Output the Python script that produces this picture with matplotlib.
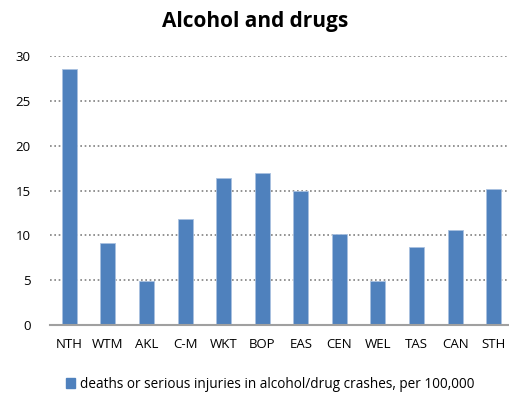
import matplotlib
matplotlib.use("Agg")
import matplotlib.pyplot as plt
from matplotlib.patches import Patch

regions = ["NTH", "WTM", "AKL", "C-M", "WKT", "BOP", "EAS", "CEN", "WEL", "TAS", "CAN", "STH"]
rates = [28.5, 9.1, 4.9, 11.8, 16.4, 16.9, 14.9, 10.2, 4.9, 8.7, 10.6, 15.2]
yticks = [0, 5, 10, 15, 20, 25, 30]
series_name = "deaths or serious injuries in alcohol/drug crashes, per 100,000"

plt.rcParams['font.family'] = ['Open Sans', 'DejaVu Sans']
bar_col = '#4f81bd'

fig = plt.figure(figsize=(5.1, 3.98), dpi=100)
ax = fig.add_axes([50 / 510, 1 - 325 / 398, 463 / 510, 269 / 398])

x = list(range(len(regions)))
ax.bar(x, rates, width=0.39, color=bar_col, edgecolor='#a9c1e0', linewidth=0.6, zorder=3)

ax.set_xlim(-0.5, len(regions) - 0.5)
ax.set_ylim(0, 30)
ax.set_yticks(yticks)
ax.set_xticks(x)
ax.set_xticklabels(regions)
ax.tick_params(axis='both', length=0, labelsize=9.5, colors='black')
ax.tick_params(axis='y', pad=14)
ax.tick_params(axis='x', pad=9)
ax.yaxis.grid(True, linestyle=(0, (1, 1.6)), color='#808080', linewidth=1.2, zorder=0)
for s in ['top', 'right', 'left']:
    ax.spines[s].set_visible(False)
ax.spines['bottom'].set_color('#a0a0a0')
ax.spines['bottom'].set_linewidth(1.5)
ax.spines['bottom'].set_zorder(4)

fig.text(0.5, 1 - 22 / 398, "Alcohol and drugs", ha='center', va='center',
         fontsize=15, fontweight='bold')

handles = [Patch(facecolor=bar_col, edgecolor=bar_col, label=series_name)]
fig.legend(handles=handles, loc='center', bbox_to_anchor=(270 / 510, 1 - 384 / 398),
           frameon=False, fontsize=9.8, handlelength=0.7, handleheight=0.7, handletextpad=0.3)

fig.savefig("out.png", dpi=100)
